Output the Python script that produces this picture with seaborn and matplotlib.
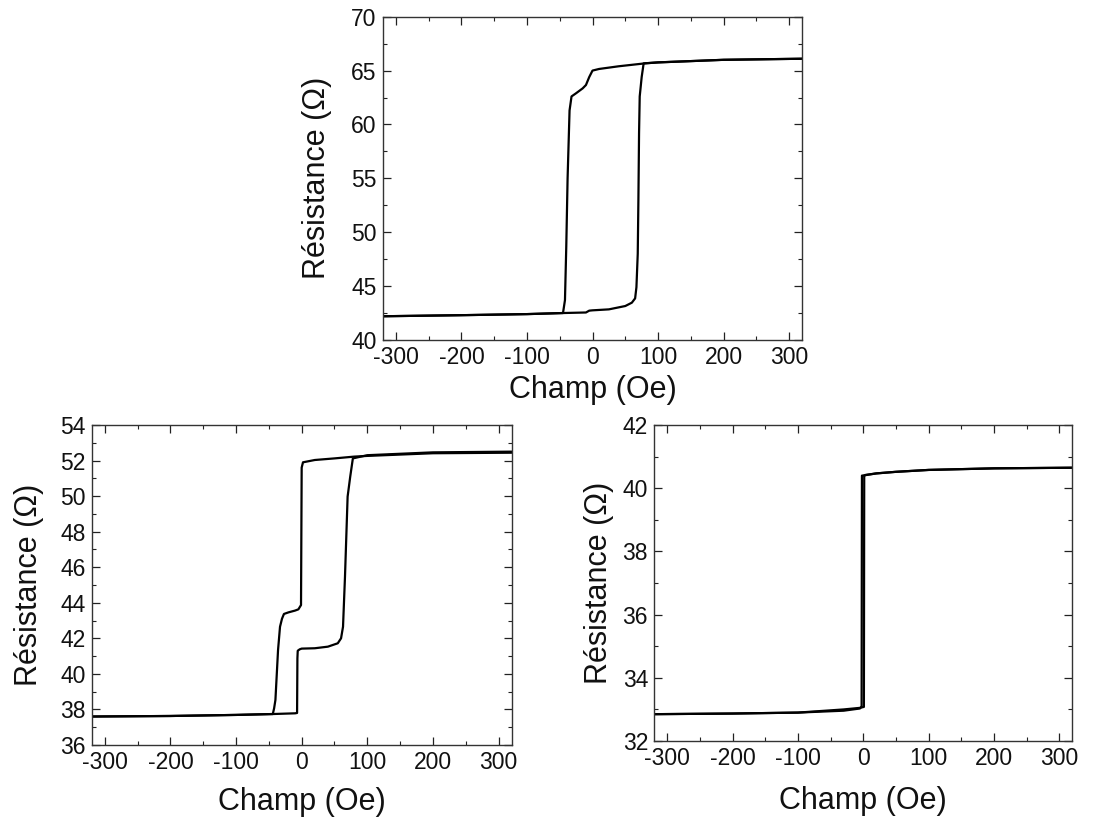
import matplotlib
matplotlib.use("Agg")
import matplotlib.pyplot as plt
from matplotlib.ticker import MultipleLocator
import seaborn as sns
import pandas as pd

sns.set_theme(style="ticks")
plt.rcParams['font.family'] = ['Liberation Sans', 'DejaVu Sans']
plt.rcParams['axes.unicode_minus'] = False

# ---- Panel A (top) ----
a_down_x = [320, 200, 100, 80, 40, 10, 0, -5, -10, -15, -25, -32, -35, -38, -40, -42, -45, -100, -200, -320]
a_down_y = [66.1, 66.0, 65.76, 65.67, 65.4, 65.15, 65.0, 64.4, 63.66, 63.35, 62.9, 62.6, 61.3, 55.0, 48.7, 43.7, 42.5, 42.4, 42.3, 42.2]
a_up_x = [-320, -200, -100, -45, -10, -5, 0, 25, 50, 60, 65, 67, 69, 70, 71, 72, 75, 78, 100, 200, 320]
a_up_y = [42.2, 42.3, 42.4, 42.5, 42.55, 42.72, 42.75, 42.84, 43.15, 43.46, 43.86, 44.9, 48.0, 53.0, 59.2, 62.6, 64.4, 65.67, 65.76, 66.0, 66.1]

# ---- Panel B (bottom left) ----
b_down_x = [320, 200, 100, 80, 50, 20, 2, 0, -1, -5, -10, -20, -27, -30, -33, -36, -40, -42, -44, -100, -200, -320]
b_down_y = [52.44, 52.41, 52.26, 52.22, 52.12, 52.03, 51.9, 51.6, 43.87, 43.63, 43.56, 43.46, 43.37, 43.1, 42.65, 41.34, 38.53, 38.06, 37.74, 37.69, 37.63, 37.6]
b_up_x = [-320, -200, -100, -44, -10, -7, -6.5, -6, -3, 0, 20, 40, 55, 60, 63, 66, 70, 74, 78, 100, 200, 320]
b_up_y = [37.6, 37.63, 37.69, 37.74, 37.78, 37.8, 40.87, 41.3, 41.38, 41.42, 41.44, 41.53, 41.72, 42.0, 42.65, 45.47, 49.97, 51.1, 52.12, 52.3, 52.46, 52.5]

# ---- Panel C (bottom right) ----
c_down_x = [320, 200, 100, 50, 20, 2, -2, -2.5, -5, -30, -100, -200, -320]
c_down_y = [40.65, 40.63, 40.58, 40.52, 40.47, 40.41, 40.40, 33.1, 33.03, 32.96, 32.9, 32.87, 32.85]
c_up_x = [-320, -200, -100, -30, -5, 1, 1.5, 3, 20, 50, 100, 200, 320]
c_up_y = [32.85, 32.87, 32.9, 33.0, 33.05, 33.08, 40.4, 40.42, 40.47, 40.52, 40.58, 40.63, 40.65]

x_ticks = [-300, -200, -100, 0, 100, 200, 300]
xlabel = "Champ (Oe)"
ylabel = "Résistance (Ω)"


def make_df(dx, dy, ux, uy):
    return pd.concat([
        pd.DataFrame({"champ": dx, "res": dy, "branch": "down"}),
        pd.DataFrame({"champ": ux, "res": uy, "branch": "up"}),
    ], ignore_index=True)


fig = plt.figure(figsize=(10.95, 8.19), dpi=100)
axes_specs = [
    ([0.3495, 0.5849, 0.3832, 0.3947], make_df(a_down_x, a_down_y, a_up_x, a_up_y), (40, 70), 5, 4, 13.5),
    ([0.0837, 0.0904, 0.3836, 0.3907], make_df(b_down_x, b_down_y, b_up_x, b_up_y), (36, 54), 2, 9.5, 11.3),
    ([0.5975, 0.0952, 0.3817, 0.3858], make_df(c_down_x, c_down_y, c_up_x, c_up_y), (32, 42), 2, 11, 6.3),
]

for rect, df, ylim, ystep, xpad, ypad in axes_specs:
    ax = fig.add_axes(rect)
    sns.lineplot(data=df, x="champ", y="res", units="branch", estimator=None,
                 sort=False, color="black", linewidth=1.6, ax=ax, legend=False)
    ax.set_xlim(-320, 320)
    ax.set_ylim(*ylim)
    ax.set_xticks(x_ticks)
    ax.xaxis.set_minor_locator(MultipleLocator(50))
    ax.yaxis.set_major_locator(MultipleLocator(ystep))
    ax.yaxis.set_minor_locator(MultipleLocator(ystep / 2))
    ax.tick_params(which="both", direction="in", top=True, right=True,
                   labelsize=16.5, colors="#222222", labelcolor="#111111")
    ax.tick_params(which="major", length=5.5, width=0.9, pad=4.5)
    ax.tick_params(which="minor", length=3, width=0.8)
    for s in ax.spines.values():
        s.set_linewidth(1.0)
        s.set_color("#333333")
    ax.set_xlabel(xlabel, fontsize=22, color="#111111", labelpad=xpad)
    ax.set_ylabel(ylabel, fontsize=22, color="#111111", labelpad=ypad)

fig.savefig("out.png", dpi=100, facecolor="white")
